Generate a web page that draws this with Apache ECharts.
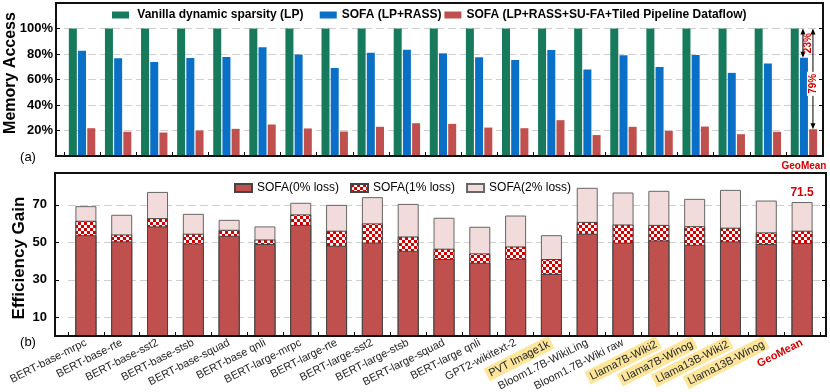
<!DOCTYPE html>
<html><head><meta charset="utf-8">
<script src="https://cdn.jsdelivr.net/npm/echarts@6/dist/echarts.min.js"></script>
<style>html,body{margin:0;padding:0;background:#fff}#c{width:830px;height:392px}</style>
</head><body><div id="c"></div>
<script>
const FONT = '"Liberation Sans", Arial, Helvetica, sans-serif';

// ---------- data ----------
const categories = ['BERT-base-mrpc','BERT-base-rte','BERT-base-sst2','BERT-base-stsb','BERT-base-squad','BERT-base qnli',
  'BERT-large-mrpc','BERT-large-rte','BERT-large-sst2','BERT-large-stsb','BERT-large-squad','BERT-large qnli',
  'GPT2-wikitext-2','PVT Image1k','Bloom1.7B-WikiLing','Bloom1.7B-Wiki raw','Llama7B-Wiki2','Llama7B-Winog',
  'Llama13B-Wiki2','Llama13B-Winog','GeoMean'];
const highlighted = ['PVT Image1k','Llama7B-Wiki2','Llama7B-Winog','Llama13B-Wiki2','Llama13B-Winog'];

// (a) memory access, %
const vanillaLP = [100,100,100,100,100,100,100,100,100,100,100,100,100,100,100,100,100,100,100,100,100];
const sofaRASS  = [82.6,76.6,73.8,76.9,77.7,85.2,79.7,69.1,81.0,83.4,80.5,77.4,75.3,83.1,67.8,79.0,69.9,79.2,65.2,72.5,77.0];
const sofaFull  = [21.8,19.0,18.4,20.0,21.3,24.7,21.6,19.2,22.9,25.7,25.2,22.3,21.8,28.1,16.4,22.9,19.7,23.1,17.1,19.0,21.0];
const topTickLabels = [20,40,60,80,100];
const geoAnnotations = ['23%','79%'];

// (b) efficiency gain (cumulative total at each loss budget)
const gainLoss0 = [53.8,50.5,58.5,49.4,53.5,49.1,59.3,48.2,49.9,45.5,41.1,39.1,41.2,33.1,54.6,49.8,51.0,48.7,50.5,49.1,49.6];
const gainLoss1 = [61.5,54.2,62.9,54.6,56.7,51.5,64.9,56.2,60.1,53.1,46.6,44.1,47.8,41.1,60.9,59.5,59.3,58.6,57.8,55.3,56.2];
const gainLoss2 = [69.3,64.7,76.9,65.2,62.0,58.5,71.1,70.0,74.1,70.5,63.1,58.3,64.3,53.8,79.1,76.6,77.5,73.2,78.0,72.3,71.5];
const bottomTickLabels = [10,30,50,70];
const axisTitles = ['Memory Access','Efficiency Gain'];
const panelTags = ['(a)','(b)'];

// ---------- style ----------
const C = {green:'#187a5c', blue:'#0a6fc6', red:'#c0504d', pink:'#f2dcdb', checkRed:'#d10000', accent:'#d00000'};
function checkerCanvas(){
  const c = document.createElement('canvas'); c.width = 6; c.height = 6;
  const g = c.getContext('2d');
  g.fillStyle = '#ffffff'; g.fillRect(0,0,6,6);
  g.fillStyle = C.checkRed; g.fillRect(0,0,3,3); g.fillRect(3,3,3,3);
  return c;
}
const checker = {image: checkerCanvas(), repeat: 'repeat'};

const gridTop = {left:64, right:8, top:3, height:153, outerBoundsMode:'none', containLabel:false};
const gridBot = {left:68, right:10, top:173, height:163, outerBoundsMode:'none', containLabel:false};
const dash = {color:'#cfcfcf', type:[8,4], width:1};

const chart = echarts.init(document.getElementById('c'), null, {renderer:'canvas'});

const lastIdx = categories.length - 1;
const option = {
  animation:false,
  textStyle:{fontFamily:FONT},
  grid:[gridTop, gridBot],
  legend:[
    {data:['Vanilla dynamic sparsity (LP)','SOFA (LP+RASS)','SOFA (LP+RASS+SU-FA+Tiled Pipeline Dataflow)'],
     left:107, top:4, icon:'rect', itemWidth:17, itemHeight:7, itemGap:3,
     formatter: n => n === 'Vanilla dynamic sparsity (LP)' ? ' ' + n + '    ' : n,
     textStyle:{fontSize:12, fontWeight:'bold', color:'#000', fontFamily:FONT}},
    {data:['SOFA(0% loss)','SOFA(1% loss)','SOFA(2% loss)'],
     left:229, top:177, icon:'rect', itemWidth:17, itemHeight:8, itemGap:11,
     textStyle:{fontSize:12, color:'#000', fontFamily:FONT}}
  ],
  xAxis:[
    {type:'category', gridIndex:0, data:categories,
     axisLine:{show:false},
     axisTick:{show:true, inside:true, length:4, lineStyle:{color:'#000'}},
     axisLabel:{interval:0, margin:5, formatter: v => v === 'GeoMean' ? v : '',
       color:C.accent, fontWeight:'bold', fontSize:10, fontFamily:FONT}},
    {type:'category', gridIndex:1, data:categories,
     axisLine:{show:false},
     axisTick:{show:true, inside:true, length:4, lineStyle:{color:'#000'}},
     axisLabel:{interval:0, rotate:27, margin:6, fontSize:11, color:'#222', fontFamily:FONT,
       formatter: v => v === 'GeoMean' ? '{gm|' + v + '}' : (highlighted.includes(v) ? '{hl|' + v + '}' : v),
       rich:{
         hl:{backgroundColor:'#fde69c', padding:[2,3,1,3], fontSize:11, color:'#222', fontFamily:FONT},
         gm:{color:C.accent, fontWeight:'bold', fontSize:11, fontFamily:FONT}
       }}}
  ],
  yAxis:[
    {type:'value', gridIndex:0, min:0, max:120, interval:20, offset:8,
     axisLine:{show:false},
     axisTick:{show:true, inside:true, length:4, lineStyle:{color:'#000'}},
     axisLabel:{margin:3, fontSize:13, fontWeight:'bold', color:'#000', fontFamily:FONT,
       formatter: v => topTickLabels.includes(v) ? v + '%' : ''},
     splitLine:{show:true, lineStyle:dash}},
    {type:'value', gridIndex:0, min:0, max:120, interval:20, position:'right', offset:1,
     axisLine:{show:false}, axisLabel:{show:false}, splitLine:{show:false},
     axisTick:{show:true, inside:true, length:4, lineStyle:{color:'#000'}}},
    {type:'value', gridIndex:1, min:0, max:87, offset:13,
     axisLine:{show:false},
     axisTick:{show:true, inside:true, length:4, customValues:bottomTickLabels, lineStyle:{color:'#000'}},
     axisLabel:{margin:8, fontSize:13, fontWeight:'bold', color:'#000', fontFamily:FONT, customValues:bottomTickLabels},
     splitLine:{show:true, lineStyle:dash}},
    {type:'value', gridIndex:1, min:0, max:87, position:'right', offset:6,
     axisLine:{show:false}, axisLabel:{show:false}, splitLine:{show:false},
     axisTick:{show:true, inside:true, length:4, customValues:bottomTickLabels, lineStyle:{color:'#000'}}}
  ],
  series:[
    {name:'Vanilla dynamic sparsity (LP)', type:'bar', xAxisIndex:0, yAxisIndex:0, data:vanillaLP,
     barWidth:8, barGap:'15%', itemStyle:{color:C.green}},
    {name:'SOFA (LP+RASS)', type:'bar', xAxisIndex:0, yAxisIndex:0, data:sofaRASS,
     barWidth:8, barGap:'15%', itemStyle:{color:C.blue}},
    {name:'SOFA (LP+RASS+SU-FA+Tiled Pipeline Dataflow)', type:'bar', xAxisIndex:0, yAxisIndex:0, data:sofaFull,
     barWidth:8, barGap:'15%', itemStyle:{color:C.red}},
    {name:'SOFA(2% loss)', type:'bar', xAxisIndex:1, yAxisIndex:2, data:gainLoss2,
     barWidth:21, barGap:'-100%', itemStyle:{color:C.pink, borderColor:'#666', borderWidth:1},
     label:{show:true, position:'top', distance:3, color:C.accent, fontWeight:'bold', fontSize:12, fontFamily:FONT,
       formatter: p => p.dataIndex === lastIdx ? String(p.value) : ''}},
    {name:'SOFA(1% loss)', type:'bar', xAxisIndex:1, yAxisIndex:2, data:gainLoss1,
     barWidth:21, barGap:'-100%', itemStyle:{color:checker, borderColor:'#444', borderWidth:1}},
    {name:'SOFA(0% loss)', type:'bar', xAxisIndex:1, yAxisIndex:2, data:gainLoss0,
     barWidth:21, barGap:'-100%', itemStyle:{color:C.red, borderColor:'#444', borderWidth:1}}
  ]
};
chart.setOption(option);

// ---------- frames, titles, panel tags, GeoMean annotation ----------
function frameOf(g, extendLeft, extendRight){
  return {type:'rect', z:100, silent:true,
    shape:{x:g.left - extendLeft, y:g.top, width:830 - g.right - g.left + extendLeft + extendRight, height:g.height},
    style:{fill:'none', stroke:'#111', lineWidth:2}};
}
const gx = chart.convertToPixel({xAxisIndex:0}, 'GeoMean');
const y100 = chart.convertToPixel({yAxisIndex:0}, vanillaLP[lastIdx]);
const yBlue = chart.convertToPixel({yAxisIndex:0}, sofaRASS[lastIdx]);
const yRed = chart.convertToPixel({yAxisIndex:0}, sofaFull[lastIdx]);
function arrow(x, y1, y2){
  const h = 6, w = 2.5;
  return [
    {type:'line', z:110, shape:{x1:x, y1:y1 + 2, x2:x, y2:y2 - 2}, style:{stroke:'#000', lineWidth:1}},
    {type:'polygon', z:110, shape:{points:[[x, y1],[x - w, y1 + h],[x + w, y1 + h]]}, style:{fill:'#000'}},
    {type:'polygon', z:110, shape:{points:[[x, y2],[x - w, y2 - h],[x + w, y2 - h]]}, style:{fill:'#000'}}
  ];
}
const ax1 = gx - 1, ax2 = gx + 9;
const graphics = [
  frameOf(gridTop, 8, 1),
  frameOf(gridBot, 13, 6),
  {type:'text', x:11, y:73, rotation:Math.PI / 2,
   style:{text:axisTitles[0], font:'bold 16px ' + FONT, fill:'#000', align:'center', verticalAlign:'middle'}},
  {type:'text', x:19, y:258, rotation:Math.PI / 2,
   style:{text:axisTitles[1], font:'bold 17px ' + FONT, fill:'#000', align:'center', verticalAlign:'middle'}},
  {type:'text', x:28, y:157, style:{text:panelTags[0], font:'13px ' + FONT, fill:'#000', align:'center', verticalAlign:'middle'}},
  {type:'text', x:28, y:342, style:{text:panelTags[1], font:'13px ' + FONT, fill:'#000', align:'center', verticalAlign:'middle'}},
  ...arrow(ax1, y100, yBlue),
  ...arrow(ax2, y100, yRed),
  {type:'text', z:120, x:ax1 + 5, y:(y100 + yBlue) / 2, rotation:Math.PI / 2,
   style:{text:geoAnnotations[0], font:'bold 10px ' + FONT, fill:C.accent, align:'center', verticalAlign:'middle'}},
  {type:'text', z:120, x:ax2, y:(y100 + yRed) / 2 + 5, rotation:Math.PI / 2,
   style:{text:geoAnnotations[1], font:'bold 10px ' + FONT, fill:C.accent, align:'center', verticalAlign:'middle',
     backgroundColor:'#fff', padding:[1,2]}}
];
chart.setOption({graphic:graphics});
</script>
</body></html>
